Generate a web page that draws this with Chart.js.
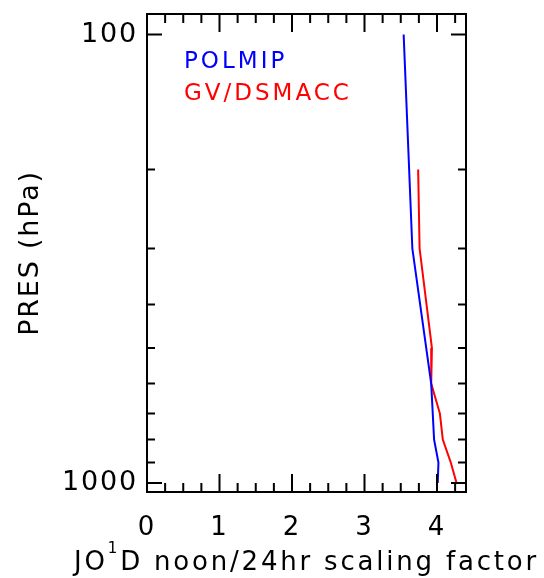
<!DOCTYPE html>
<html><head><meta charset="utf-8">
<script src="https://cdn.jsdelivr.net/npm/chart.js@4/dist/chart.umd.min.js"></script>
<style>html,body{margin:0;padding:0;background:#fff;}#wrap{width:544px;height:578px;}</style>
</head><body><div id="wrap"><canvas id="c" width="544" height="578"></canvas></div>
<script>
// ---- data ----
const seriesLabels = ['POLMIP', 'GV/DSMACC'];
const polmipPres   = [100, 300, 600, 800, 900, 1000];
const polmipFactor = [3.54, 3.66, 3.92, 3.96, 4.02, 4.01];
const gvPres       = [200, 300, 500, 600, 700, 800, 900, 1000];
const gvFactor     = [3.74, 3.76, 3.93, 3.92, 4.04, 4.08, 4.19, 4.27];
const xTickValues  = [0, 1, 2, 3, 4];
const yTickLabels  = [100, 1000];
const yMinorTicks  = [200, 300, 400, 500, 600, 700, 800, 900];
const xTitleParts  = ['JO', '1', 'D noon/24hr scaling factor'];
const yTitle       = 'PRES (hPa)';

const FONT = 'DejaVu Sans';
const toPts = (xs, ys) => xs.map((v, i) => ({x: v, y: ys[i]}));

const framePlugin = {
  id: 'frame',
  beforeDraw(chart) { chart.ctx.letterSpacing = '1.8px'; },
  afterDatasetsDraw(chart) {
    const {ctx, chartArea: a, scales: {x, y}} = chart;
    ctx.save();
    ctx.strokeStyle = '#000';
    ctx.lineWidth = 2;
    ctx.lineCap = 'butt';
    ctx.strokeRect(a.left, a.top, a.right - a.left, a.bottom - a.top);
    ctx.beginPath();
    const xMax = x.max;
    for (let v = 0; v <= xMax + 1e-9; v += 0.25) {
      const px = x.getPixelForValue(v);
      const major = Math.abs(v - Math.round(v)) < 1e-9;
      const len = major ? 18 : 9;
      ctx.moveTo(px, a.bottom); ctx.lineTo(px, a.bottom - len);
      ctx.moveTo(px, a.top); ctx.lineTo(px, a.top + len);
    }
    [...yTickLabels, ...yMinorTicks].forEach(p => {
      const py = y.getPixelForValue(p);
      const len = yTickLabels.includes(p) ? 15 : 8;
      ctx.moveTo(a.left, py); ctx.lineTo(a.left + len, py);
      ctx.moveTo(a.right, py); ctx.lineTo(a.right - len, py);
    });
    ctx.stroke();

    // legend (text only, coloured)
    ctx.textAlign = 'left';
    ctx.textBaseline = 'alphabetic';
    ctx.font = '23px "' + FONT + '"';
    ctx.letterSpacing = '3px';
    chart.data.datasets.forEach((ds, i) => {
      ctx.fillStyle = ds.borderColor;
      ctx.fillText(ds.label, 184, 68 + i * 32);
    });

    // x title with superscript
    ctx.fillStyle = '#000';
    ctx.letterSpacing = '2.8px';
    const big = '26px "' + FONT + '"', small = '15px "' + FONT + '"';
    ctx.font = big; const w0 = ctx.measureText(xTitleParts[0]).width;
    ctx.font = small; const w1 = ctx.measureText(xTitleParts[1]).width;
    ctx.font = big; const w2 = ctx.measureText(xTitleParts[2]).width;
    const total = w0 + w1 + w2;
    let sx = (a.left + a.right) / 2 - total / 2;
    const base = 570;
    ctx.font = big; ctx.fillText(xTitleParts[0], sx, base); sx += w0;
    ctx.font = small; ctx.fillText(xTitleParts[1], sx, base - 17); sx += w1;
    ctx.font = big; ctx.fillText(xTitleParts[2], sx, base);
    ctx.restore();
  }
};

new Chart(document.getElementById('c'), {
  type: 'scatter',
  data: {
    datasets: [
      {label: seriesLabels[0], data: toPts(polmipFactor, polmipPres), showLine: true,
       borderColor: '#0000ff', backgroundColor: '#0000ff', borderWidth: 2, pointRadius: 0, tension: 0},
      {label: seriesLabels[1], data: toPts(gvFactor, gvPres), showLine: true,
       borderColor: '#ff0000', backgroundColor: '#ff0000', borderWidth: 2, pointRadius: 0, tension: 0}
    ]
  },
  options: {
    responsive: false,
    animation: false,
    devicePixelRatio: 1,
    layout: {padding: {top: 14, right: 78, left: 0, bottom: 0}},
    plugins: {legend: {display: false}, tooltip: {enabled: false}},
    scales: {
      x: {
        type: 'linear', position: 'bottom', min: 0, max: 4.4,
        afterBuildTicks: s => { s.ticks = xTickValues.map(v => ({value: v})); },
        afterFit: s => { s.height = 86; s.paddingLeft = 0; s.paddingRight = 0; },
        grid: {display: false, drawTicks: false},
        border: {display: false},
        ticks: {color: '#000', font: {family: FONT, size: 26}, padding: 21, autoSkip: false, maxRotation: 0,
                callback: v => String(v)},
        title: {display: false}
      },
      y: {
        type: 'logarithmic', position: 'left', reverse: true, min: 90, max: 1047,
        afterBuildTicks: s => { s.ticks = [...yTickLabels, ...yMinorTicks].sort((p, q) => p - q).map(v => ({value: v})); },
        afterFit: s => { s.width = 147; s.paddingTop = 0; s.paddingBottom = 0; },
        grid: {display: false, drawTicks: false},
        border: {display: false},
        ticks: {color: '#000', font: {family: FONT, size: 27}, padding: 9, autoSkip: false,
                callback: v => yTickLabels.includes(v) ? String(v) : ''},
        title: {display: true, text: yTitle, color: '#000', font: {family: FONT, size: 27}, padding: {top: 15, bottom: 0}}
      }
    }
  },
  plugins: [framePlugin]
});
</script></body></html>
